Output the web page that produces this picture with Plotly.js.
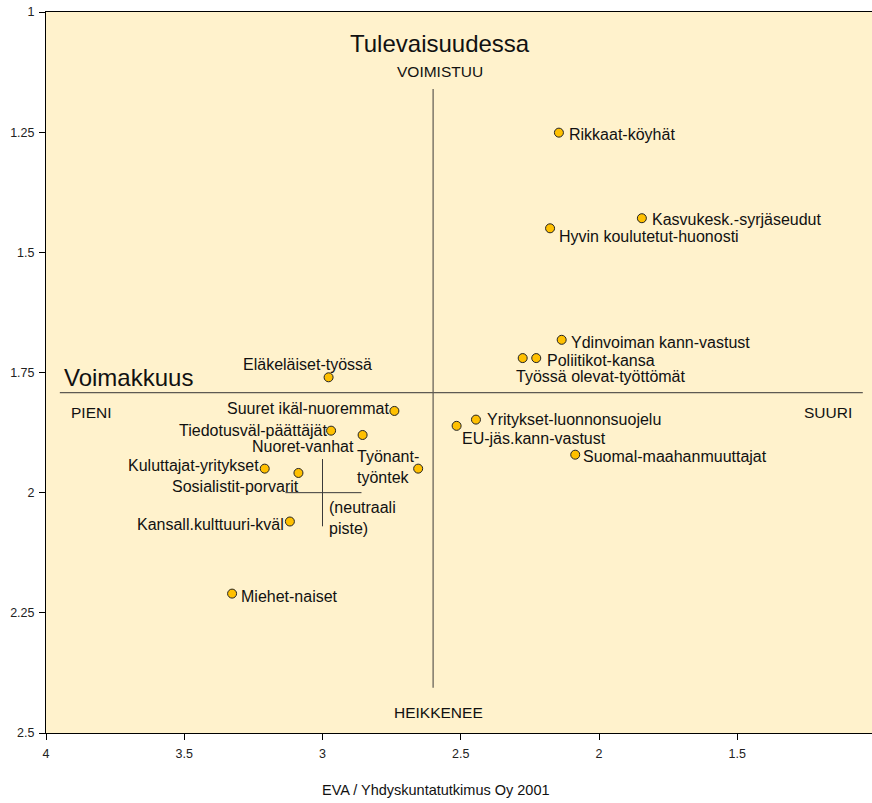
<!DOCTYPE html>
<html>
<head>
<meta charset="utf-8">
<script src="https://cdn.plot.ly/plotly-3.0.1.min.js"></script>
<style>html,body{margin:0;padding:0;background:#fff;}#chart{width:872px;height:803px;}</style>
</head>
<body>
<div id="chart"></div>
<script>
// ---- data ----
const labels = [
  "Rikkaat-köyhät", "Kasvukesk.-syrjäseudut", "Hyvin koulutetut-huonosti",
  "Ydinvoiman kann-vastust", "Poliitikot-kansa", "Työssä olevat-työttömät",
  "Eläkeläiset-työssä", "Suuret ikäl-nuoremmat", "Tiedotusväl-päättäjät",
  "Nuoret-vanhat", "Työnant-<br>työntek", "Kuluttajat-yritykset",
  "Sosialistit-porvarit", "Kansall.kulttuuri-kväl", "Miehet-naiset",
  "Yritykset-luonnonsuojelu", "EU-jäs.kann-vastust", "Suomal-maahanmuuttajat"
];
const strength = [2.145, 1.845, 2.177, 2.135, 2.227, 2.276, 2.978, 2.740, 2.969,
                  2.855, 2.654, 3.209, 3.087, 3.118, 3.327, 2.445, 2.515, 2.086];
const future   = [1.251, 1.429, 1.450, 1.682, 1.720, 1.720, 1.760, 1.830, 1.871,
                  1.880, 1.950, 1.950, 1.959, 2.060, 2.210, 1.848, 1.861, 1.921];

const xTicks = [4, 3.5, 3, 2.5, 2, 1.5];
const yTicks = [1, 1.25, 1.5, 1.75, 2, 2.25, 2.5];

// quadrant divider lines and neutral point cross (data units)
const vLineX = [2.6, 2.6],     vLineY = [1.16, 2.406];
const hLineX = [3.95, 1.046],  hLineY = [1.792, 1.792];
const crossVX = [3, 3],        crossVY = [1.93, 2.07];
const crossHX = [3.134, 2.859], crossHY = [2, 2];

// ---- label placement (style, pixels) ----
const labelPos = [
  {a:'left', dx:10, dy:-2}, {a:'left', dx:10.5, dy:-1}, {a:'left', dx:8.5, dy:-8.4},
  {a:'left', dx:9, dy:-2.7}, {a:'left', dx:10.4, dy:-2.4}, {a:'left', dx:-6.7, dy:-18.7},
  {a:'right', dx:43.4, dy:13.3}, {a:'right', dx:-5.7, dy:2}, {a:'right', dx:-4.3, dy:0},
  {a:'right', dx:-8.7, dy:-12}, {a:'right', dx:1, dy:1.5}, {a:'right', dx:-6, dy:3.3},
  {a:'right', dx:0.3, dy:-13.4}, {a:'right', dx:-6, dy:-3.3}, {a:'left', dx:8.7, dy:-3},
  {a:'left', dx:10.7, dy:0}, {a:'left', dx:5.3, dy:-13}, {a:'left', dx:7.7, dy:-1.7}
];

const FONT = "Liberation Sans, Arial, sans-serif";
const lineStyle = {color:'#5e5a52', width:1.2};

const traces = [
  {x:vLineX, y:vLineY, mode:'lines', line:lineStyle, hoverinfo:'skip', showlegend:false},
  {x:hLineX, y:hLineY, mode:'lines', line:lineStyle, hoverinfo:'skip', showlegend:false},
  {x:crossVX, y:crossVY, mode:'lines', line:{color:'#3a3a3a', width:1}, hoverinfo:'skip', showlegend:false},
  {x:crossHX, y:crossHY, mode:'lines', line:{color:'#3a3a3a', width:1}, hoverinfo:'skip', showlegend:false},
  {x:strength, y:future, mode:'markers', showlegend:false,
   marker:{size:9, color:'#FFC000', line:{color:'#222', width:1}}}
];

const annotations = labels.map((t, i) => ({
  x: strength[i], y: future[i], xref:'x', yref:'y', text:t,
  showarrow:false, xanchor: labelPos[i].a, yanchor:'middle', align:'left',
  xshift: labelPos[i].dx, yshift: labelPos[i].dy,
  borderpad:0, borderwidth:0,
  font:{family:FONT, size:16, color:'#111'}
}));

function txt(text, x, y, size, extra) {
  return Object.assign({x:x, y:y, xref:'x', yref:'y', text:text, showarrow:false,
    xanchor:'center', yanchor:'middle', borderpad:0, borderwidth:0,
    font:{family:FONT, size:size, color:'#111'}}, extra || {});
}
annotations.push(txt("Tulevaisuudessa", 2.576, 1.065, 24));
annotations.push(txt("VOIMISTUU", 2.576, 1.124, 15.5));
annotations.push(txt("HEIKKENEE", 2.582, 2.458, 15.5));
annotations.push(txt("Voimakkuus", 3.703, 1.760, 24));
annotations.push(txt("PIENI", 3.836, 1.834, 15.5));
annotations.push(txt("SUURI", 1.172, 1.834, 15.5));
annotations.push(txt("(neutraali<br>piste)", 2.977, 2.052, 16, {xanchor:'left', align:'left'}));
annotations.push({x:0.472, y:-0.0786, xref:'paper', yref:'paper', text:"EVA / Yhdyskuntatutkimus Oy 2001",
  showarrow:false, xanchor:'center', yanchor:'middle', font:{family:FONT, size:14.5, color:'#111'}});

const layout = {
  width:872, height:803,
  margin:{l:46.3, r:0, t:12, b:69.7, pad:0},
  paper_bgcolor:'#ffffff', plot_bgcolor:'#FFF2CC',
  showlegend:false,
  xaxis:{range:[4, 1.0127], tickvals:xTicks, ticktext:xTicks.map(String),
    showgrid:false, zeroline:false, showline:true, linecolor:'#000', linewidth:1, mirror:true,
    ticks:'outside', ticklen:6, tickcolor:'#000', ticklabelstandoff:3,
    tickfont:{family:FONT, size:12.5, color:'#222'}},
  yaxis:{range:[2.5, 1], tickvals:yTicks, ticktext:yTicks.map(String),
    showgrid:false, zeroline:false, showline:true, linecolor:'#000', linewidth:1,
    ticks:'outside', ticklen:6, tickcolor:'#000', ticklabelstandoff:2,
    tickfont:{family:FONT, size:12.5, color:'#222'}},
  annotations: annotations
};

Plotly.newPlot('chart', traces, layout, {displayModeBar:false, staticPlot:true});
</script>
</body>
</html>
